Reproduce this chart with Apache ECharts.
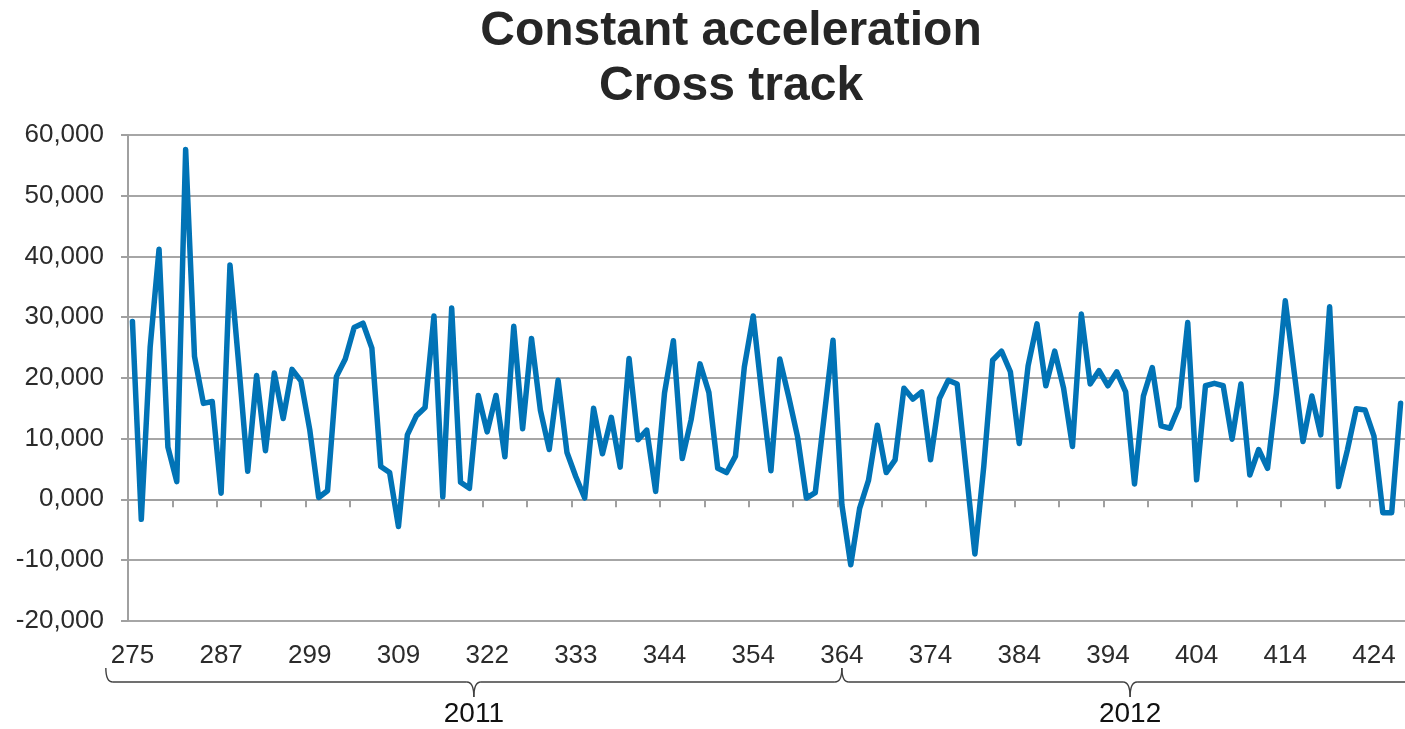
<!DOCTYPE html>
<html>
<head>
<meta charset="utf-8">
<script src="https://cdn.jsdelivr.net/npm/echarts@6/dist/echarts.min.js"></script>
<style>
  html, body { margin: 0; padding: 0; background: #ffffff; }
  #chart { width: 1405px; height: 729px; }
</style>
</head>
<body>
<div id="chart"></div>
<script>
// ---- data ----
const tickLabels = ['275','287','299','309','322','333','344','354','364','374','384','394','404','414','424'];
const crossTrack = [
  29300, -3300, 25100, 41200, 8600, 2900, 57600, 23500, 15800, 16100,
  1000, 38600, 22000, 4600, 20400, 8000, 20800, 13300, 21400, 19500,
  11400, 300, 1400, 20200, 23100, 28300, 29000, 24900, 5400, 4400,
  -4500, 10600, 13700, 15100, 30200, 400, 31500, 2800, 1800, 17100,
  11100, 17100, 7000, 28500, 11600, 26500, 14700, 8200, 19600, 7700,
  3700, 200, 15000, 7500, 13500, 5300, 23200, 9800, 11400, 1300,
  17500, 26100, 6700, 13100, 22300, 17600, 5100, 4400, 7100, 21800,
  30200, 17000, 4700, 23100, 16900, 10300, 200, 1100, 13600, 26200,
  -900, -10800, -1500, 3100, 12200, 4400, 6500, 18300, 16500, 17700,
  6500, 16600, 19600, 19000, 5000, -9000, 5400, 22900, 24400, 21000,
  9200, 22000, 28900, 18700, 24400, 18300, 8700, 30500, 19000, 21200,
  18700, 21000, 17700, 2500, 17000, 21700, 12100, 11700, 15200, 29100,
  3200, 18700, 19100, 18700, 9900, 19000, 4000, 8200, 5100, 17500,
  32700, 21000, 9500, 17000, 10600, 31700, 2100, 8100, 14900, 14700,
  10400, -2200, -2200, 15800
];
const yearLabels = ['2011', '2012'];
const yearStartIndex = [-3, 80];
const yearEndIndex = [80, 145];

// categories: labelled every 10th observation
const categories = crossTrack.map((v, i) => (i % 10 === 0 && tickLabels[i / 10] !== undefined) ? tickLabels[i / 10] : '');

const FONT = '"Liberation Sans", Arial, sans-serif';
const chart = echarts.init(document.getElementById('chart'), null, { renderer: 'canvas' });

const option = {
  animation: false,
  backgroundColor: '#ffffff',
  title: {
    text: 'Constant acceleration\nCross track',
    left: 731,
    textAlign: 'center',
    top: 0,
    padding: [4, 0, 0, 0],
    textStyle: {
      fontFamily: FONT,
      fontSize: 48,
      fontWeight: 'bold',
      color: '#262626',
      lineHeight: 55
    }
  },
  grid: { left: 128, right: -4, top: 135, bottom: 108.3, containLabel: false },
  xAxis: {
    type: 'category',
    data: categories,
    boundaryGap: true,
    axisLine: { show: true, lineStyle: { color: '#a0a0a0', width: 2 } },
    axisTick: { show: true, interval: 4, length: 8, lineStyle: { color: '#a0a0a0', width: 2 } },
    axisLabel: {
      interval: 9,
      margin: 22,
      fontFamily: FONT,
      fontSize: 26,
      color: '#2b2b2b'
    },
    splitLine: { show: false }
  },
  yAxis: {
    type: 'value',
    min: -20000,
    max: 60000,
    interval: 10000,
    axisLine: { show: true, lineStyle: { color: '#a0a0a0', width: 2 } },
    axisTick: { show: true, length: 7, lineStyle: { color: '#a0a0a0', width: 2 } },
    axisLabel: {
      margin: 24,
      fontFamily: FONT,
      fontSize: 26,
      color: '#2b2b2b',
      formatter: v => (v / 1000) + ',000'
    },
    splitLine: { show: true, lineStyle: { color: '#a6a6a6', width: 2 } }
  },
  series: [{
    type: 'line',
    data: crossTrack,
    symbol: 'none',
    smooth: false,
    clip: true,
    lineStyle: { color: '#0173b6', width: 5.5, join: 'round', cap: 'round' }
  }]
};
chart.setOption(option);

function drawBrackets() {
  const p0 = chart.convertToPixel({ xAxisIndex: 0 }, 0);
  const p1 = chart.convertToPixel({ xAxisIndex: 0 }, 1);
  const step = p1 - p0;
  const px = i => p0 + i * step;
  const yTop = 668, yH = 682, yTip = 697, r = 7;
  const st = { stroke: '#404040', lineWidth: 1.4, fill: null };
  const elements = [];
  yearLabels.forEach((yr, k) => {
    const a = px(yearStartIndex[k]);
    const b = px(yearEndIndex[k]);
    const m = (a + b) / 2;
    elements.push({ type: 'bezierCurve', silent: true, shape: { x1: a, y1: yTop, cpx1: a, cpy1: yH, x2: a + r, y2: yH }, style: st });
    elements.push({ type: 'line', silent: true, shape: { x1: a + r, y1: yH, x2: m - r, y2: yH }, style: st });
    elements.push({ type: 'bezierCurve', silent: true, shape: { x1: m - r, y1: yH, cpx1: m, cpy1: yH, x2: m, y2: yTip }, style: st });
    elements.push({ type: 'bezierCurve', silent: true, shape: { x1: m, y1: yTip, cpx1: m, cpy1: yH, x2: m + r, y2: yH }, style: st });
    elements.push({ type: 'line', silent: true, shape: { x1: m + r, y1: yH, x2: b - r, y2: yH }, style: st });
    elements.push({ type: 'bezierCurve', silent: true, shape: { x1: b - r, y1: yH, cpx1: b, cpy1: yH, x2: b, y2: yTop }, style: st });
    elements.push({
      type: 'text', silent: true, x: m, y: 714,
      style: { text: yr, fontFamily: FONT, fontSize: 28, fill: '#111111', align: 'center', verticalAlign: 'middle' }
    });
  });
  chart.setOption({ graphic: { elements: elements } });
}
drawBrackets();
</script>
</body>
</html>
